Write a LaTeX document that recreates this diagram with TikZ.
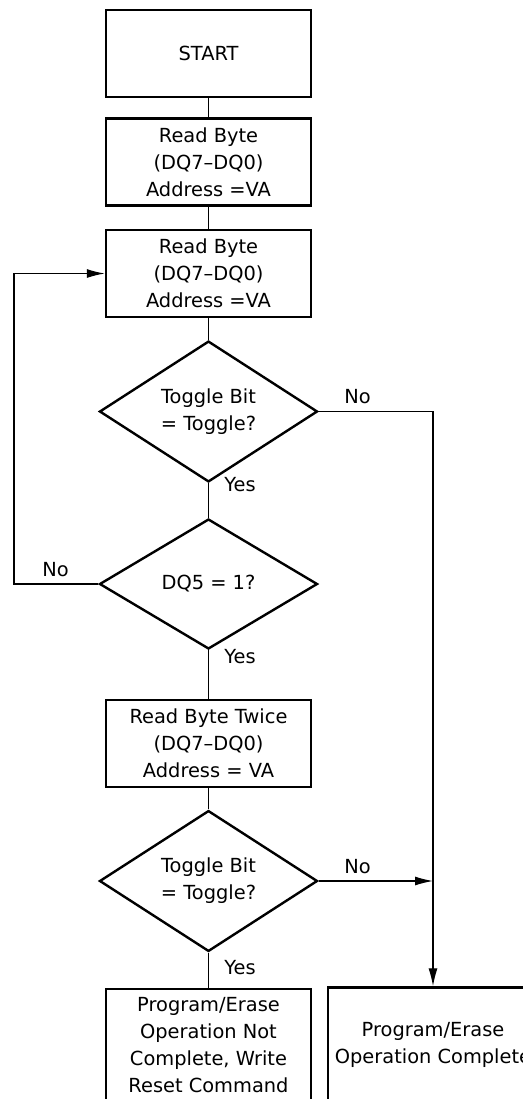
\documentclass[tikz,border=0pt]{standalone}
\usepackage{fontspec}
\setmainfont{DejaVu Sans}
\usetikzlibrary{shapes.geometric,arrows.meta}

\begin{document}
\begin{tikzpicture}[x=0.5pt,y=-0.5pt,
    font=\fontsize{9.7}{13.5}\selectfont,
    stepbox/.style={draw, line width=1.2pt, minimum width=102.5pt, minimum height=43.5pt, align=center, inner sep=0pt},
    decision/.style={draw, diamond, line width=1.2pt, minimum width=109pt, minimum height=65pt, align=center, inner sep=0pt},
    link/.style={line width=0.6pt},
    arrowlink/.style={link, -{Latex[length=9pt,width=4.5pt]}}]
                      \useasboundingbox (0,0) rectangle (523,1099);
                      \node[stepbox] (start) at (208.5,53.5) {START};
                      \node[stepbox] (read1) at (208.5,162) {Read Byte\\(DQ7--DQ0)\\Address =VA};
                      \node[stepbox] (read2) at (208.5,273.5) {Read Byte\\(DQ7--DQ0)\\Address =VA};
                      \node[decision] (toggle1) at (208.5,411.5) {Toggle Bit\\= Toggle?};
                      \node[decision] (dq5) at (208.5,584) {DQ5 = 1?};
                      \node[stepbox] (twice) at (208.5,743.7) {Read Byte Twice\\(DQ7--DQ0)\\Address = VA};
                      \node[decision] (toggle2) at (208.5,881) {Toggle Bit\\= Toggle?};
                      \node[stepbox, minimum height=56pt] (notdone) at (208.5,1045) {Program/Erase\\Operation Not\\Complete, Write\\Reset Command};
                      \node[stepbox, minimum width=105pt, minimum height=57pt] (done) at (433,1044.5) {Program/Erase\\Operation Complete};
                      \coordinate (corner1) at (433,411.5);
                      \coordinate (join) at (433,881);
                      \coordinate (loopbot) at (14,584);
                      \coordinate (looptop) at (14,273.5);

                      \draw[link] (start) -- (read1);
                      \draw[link] (read1) -- (read2);
                      \draw[link] (read2) -- (toggle1);
                      \draw[link] (toggle1) -- (dq5);
                      \draw[link] (dq5) -- (twice);
                      \draw[link] (twice) -- (toggle2);
                      \draw[link] (toggle2) -- (notdone);
                      \draw[arrowlink] (toggle1.east) -- (corner1) -- (done.north);
                      \draw[arrowlink] (toggle2.east) -- (join);
                      \draw[arrowlink] (dq5.west) -- (loopbot) -- (looptop) -- (read2.west);

                      \node (no1) at (357.5,397) {No};
                      \node (yes1) at (240,485) {Yes};
                      \node (no2) at (55.5,570) {No};
                      \node (yes2) at (240,657) {Yes};
                      \node (no3) at (357.5,867) {No};
                      \node (yes3) at (240,968) {Yes};
                  \end{tikzpicture}
\end{document}
